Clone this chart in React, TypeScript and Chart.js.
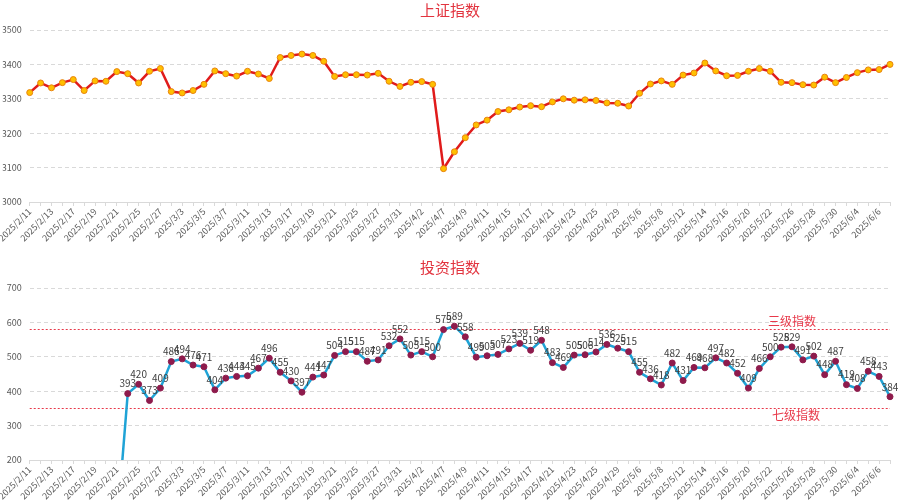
import React, { useEffect, useRef } from "react";
import { Chart, registerables } from "chart.js";

Chart.register(...registerables);

const dates: string[] = [
  "2025/2/11","2025/2/12","2025/2/13","2025/2/14","2025/2/17","2025/2/18","2025/2/19","2025/2/20","2025/2/21","2025/2/24",
  "2025/2/25","2025/2/26","2025/2/27","2025/2/28","2025/3/3","2025/3/4","2025/3/5","2025/3/6","2025/3/7","2025/3/10",
  "2025/3/11","2025/3/12","2025/3/13","2025/3/14","2025/3/17","2025/3/18","2025/3/19","2025/3/20","2025/3/21","2025/3/24",
  "2025/3/25","2025/3/26","2025/3/27","2025/3/28","2025/3/31","2025/4/1","2025/4/2","2025/4/3","2025/4/7","2025/4/8",
  "2025/4/9","2025/4/10","2025/4/11","2025/4/14","2025/4/15","2025/4/16","2025/4/17","2025/4/18","2025/4/21","2025/4/22",
  "2025/4/23","2025/4/24","2025/4/25","2025/4/28","2025/4/29","2025/4/30","2025/5/6","2025/5/7","2025/5/8","2025/5/9",
  "2025/5/12","2025/5/13","2025/5/14","2025/5/15","2025/5/16","2025/5/19","2025/5/20","2025/5/21","2025/5/22","2025/5/23",
  "2025/5/26","2025/5/27","2025/5/28","2025/5/29","2025/5/30","2025/6/3","2025/6/4","2025/6/5","2025/6/6","2025/6/9",
];

const shIndex: number[] = [
  3318, 3346, 3332, 3347, 3356, 3324, 3352, 3351, 3379, 3373,
  3346, 3380, 3388, 3321, 3317, 3324, 3342, 3381, 3373, 3366,
  3380, 3372, 3359, 3420, 3426, 3430, 3426, 3409, 3365, 3370,
  3370, 3369, 3374, 3351, 3336, 3348, 3350, 3342, 3097, 3146,
  3187, 3224, 3238, 3263, 3268, 3276, 3280, 3277, 3291, 3300,
  3296, 3297, 3295, 3288, 3287, 3279, 3316, 3343, 3352, 3342,
  3369, 3375, 3404, 3381, 3367, 3368, 3380, 3388, 3380, 3348,
  3347, 3341, 3340, 3363, 3347, 3362, 3376, 3384, 3385, 3400,
];

const investIndex: (number | null)[] = [
  null, null, null, null, null, null, null, null, 0, 393,
  420, 373, 409, 486, 494, 476, 471, 404, 438, 443,
  445, 467, 496, 455, 430, 397, 441, 447, 504, 515,
  515, 487, 491, 532, 552, 505, 515, 500, 579, 589,
  558, 499, 503, 507, 523, 539, 519, 548, 483, 469,
  505, 506, 514, 536, 525, 515, 455, 436, 418, 482,
  431, 469, 468, 497, 482, 452, 409, 466, 500, 528,
  529, 491, 502, 448, 487, 419, 408, 458, 443, 384,
];

const topTicks = { min: 3000, max: 3500, step: 100 };
const bottomTicks = { min: 200, max: 700, step: 100 };
const levelLines = [
  { value: 580, label: "三级指数", above: true },
  { value: 350, label: "七级指数", above: false },
];
const topTitle = "上证指数";
const bottomTitle = "投资指数";

const FONT = "'Noto Sans CJK SC', 'Noto Sans', sans-serif";
const TICK_COLOR = "#595959";
const GRID_COLOR = "#d9d9d9";

function titlePlugin(text: string, y: number) {
  return {
    id: "fixedTitle",
    afterDraw(chart: any) {
      const ctx = chart.ctx;
      ctx.save();
      ctx.font = `15px ${FONT}`;
      ctx.fillStyle = "#e2343f";
      ctx.textAlign = "center";
      ctx.textBaseline = "middle";
      ctx.fillText(text, chart.width / 2, y);
      ctx.restore();
    },
  };
}

const dataLabelPlugin = {
  id: "valueLabels",
  afterDatasetsDraw(chart: any) {
    const ctx = chart.ctx;
    const meta = chart.getDatasetMeta(0);
    const data = chart.data.datasets[0].data;
    const yMin = chart.scales.y.min;
    ctx.save();
    ctx.font = `10px ${FONT}`;
    ctx.fillStyle = "#404040";
    ctx.textAlign = "center";
    ctx.textBaseline = "bottom";
    meta.data.forEach((pt: any, i: number) => {
      const v = data[i];
      if (v === null || v === undefined || v < yMin) return;
      ctx.fillText(String(v), pt.x, pt.y - 5);
    });
    ctx.restore();
  },
};

const levelPlugin = {
  id: "levelLines",
  beforeDatasetsDraw(chart: any) {
    const ctx = chart.ctx;
    const { left, right } = chart.chartArea;
    const ys = chart.scales.y;
    const xs = chart.scales.x;
    ctx.save();
    levelLines.forEach((l) => {
      const y = Math.round(ys.getPixelForValue(l.value)) + 0.5;
      ctx.strokeStyle = "#e8394a";
      ctx.lineWidth = 1;
      ctx.setLineDash([2, 2]);
      ctx.beginPath();
      ctx.moveTo(left, y);
      ctx.lineTo(right, y);
      ctx.stroke();
      ctx.setLineDash([]);
      ctx.font = `12px ${FONT}`;
      ctx.fillStyle = "#e8394a";
      ctx.textAlign = "center";
      const x = xs.getPixelForValue(70);
      if (l.above) {
        ctx.textBaseline = "bottom";
        ctx.fillText(l.label, x, y - 2);
      } else {
        ctx.textBaseline = "top";
        ctx.fillText(l.label, x + 4, y + 1);
      }
    });
    ctx.restore();
  },
};

function makeScales(ticks: { min: number; max: number; step: number }, xHeight: number) {
  return {
    x: {
      type: "category" as const,
      offset: false,
      grid: { display: true, drawOnChartArea: false, drawTicks: true, tickLength: 4, color: GRID_COLOR },
      border: { display: true, color: GRID_COLOR, width: 1 },
      ticks: {
        autoSkip: false,
        maxRotation: 45,
        minRotation: 45,
        padding: 0,
        color: TICK_COLOR,
        font: { size: 9, family: FONT },
        callback: function (this: any, _v: any, i: number) {
          return i % 2 === 0 ? dates[i] : "";
        },
      },
      afterFit: (s: any) => {
        s.height = xHeight;
      },
    },
    y: {
      min: ticks.min,
      max: ticks.max,
      grid: { color: GRID_COLOR, drawTicks: false, lineWidth: 1 },
      border: { display: false, dash: [4, 3] },
      ticks: {
        stepSize: ticks.step,
        padding: 8,
        color: TICK_COLOR,
        font: { size: 9, family: FONT },
        callback: (v: any) => String(v),
      },
      afterFit: (s: any) => {
        s.width = 27;
      },
    },
  };
}

function TopChart() {
  const ref = useRef<HTMLCanvasElement>(null);
  useEffect(() => {
    const chart = new Chart(ref.current as HTMLCanvasElement, {
      type: "line",
      data: {
        labels: dates,
        datasets: [
          {
            data: shIndex,
            borderColor: "#e01b1b",
            borderWidth: 2.5,
            tension: 0,
            pointRadius: 3,
            pointBorderWidth: 1,
            pointBackgroundColor: "#ffc000",
            pointBorderColor: "#e8820c",
          },
        ],
      },
      options: {
        responsive: false,
        animation: false,
        layout: { padding: { top: 30, right: 10, left: 0, bottom: 0 } },
        plugins: { legend: { display: false }, tooltip: { enabled: false }, title: { display: false } },
        scales: makeScales(topTicks, 48) as any,
      },
      plugins: [titlePlugin(topTitle, 10)],
    });
    return () => chart.destroy();
  }, []);
  return <canvas ref={ref} width={900} height={250} style={{ display: "block" }} />;
}

function BottomChart() {
  const ref = useRef<HTMLCanvasElement>(null);
  useEffect(() => {
    const chart = new Chart(ref.current as HTMLCanvasElement, {
      type: "line",
      data: {
        labels: dates,
        datasets: [
          {
            data: investIndex,
            borderColor: "#1fa3d6",
            borderWidth: 2.5,
            tension: 0,
            spanGaps: false,
            pointRadius: 3,
            pointBorderWidth: 1,
            pointBackgroundColor: "#8e1b4c",
            pointBorderColor: "#8e1b4c",
          },
        ],
      },
      options: {
        responsive: false,
        animation: false,
        layout: { padding: { top: 38, right: 10, left: 0, bottom: 0 } },
        plugins: { legend: { display: false }, tooltip: { enabled: false }, title: { display: false } },
        scales: makeScales(bottomTicks, 40) as any,
      },
      plugins: [titlePlugin(bottomTitle, 17), levelPlugin, dataLabelPlugin],
    });
    return () => chart.destroy();
  }, []);
  return <canvas ref={ref} width={900} height={250} style={{ display: "block" }} />;
}

export default function App() {
  return (
    <div style={{ position: "absolute", left: 0, top: 0, width: 900, height: 500, background: "#fff" }}>
      <TopChart />
      <BottomChart />
    </div>
  );
}
